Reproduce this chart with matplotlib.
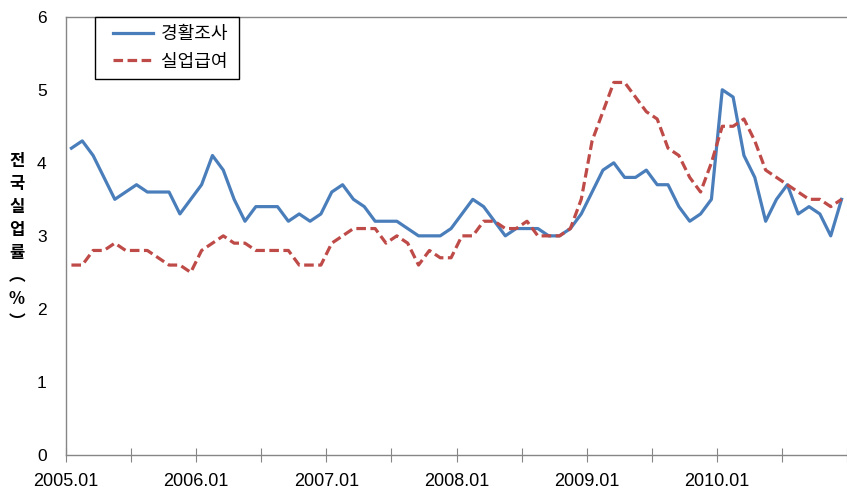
import matplotlib
matplotlib.use("Agg")
import matplotlib.pyplot as plt
from matplotlib.legend_handler import HandlerLine2D
from matplotlib.lines import Line2D
import numpy as np

plt.rcParams['font.family'] = ['Liberation Sans', 'Noto Sans CJK KR', 'DejaVu Sans']

months = [f"{y}.{m:02d}" for y in range(2005, 2011) for m in range(1, 13)]
year_labels = ["2005.01", "2006.01", "2007.01", "2008.01", "2009.01", "2010.01"]

survey = [4.2, 4.3, 4.1, 3.8, 3.5, 3.6, 3.7, 3.6, 3.6, 3.6, 3.3, 3.5,
          3.7, 4.1, 3.9, 3.5, 3.2, 3.4, 3.4, 3.4, 3.2, 3.3, 3.2, 3.3,
          3.6, 3.7, 3.5, 3.4, 3.2, 3.2, 3.2, 3.1, 3.0, 3.0, 3.0, 3.1,
          3.3, 3.5, 3.4, 3.2, 3.0, 3.1, 3.1, 3.1, 3.0, 3.0, 3.1, 3.3,
          3.6, 3.9, 4.0, 3.8, 3.8, 3.9, 3.7, 3.7, 3.4, 3.2, 3.3, 3.5,
          5.0, 4.9, 4.1, 3.8, 3.2, 3.5, 3.7, 3.3, 3.4, 3.3, 3.0, 3.5]

benefit = [2.6, 2.6, 2.8, 2.8, 2.9, 2.8, 2.8, 2.8, 2.7, 2.6, 2.6, 2.5,
           2.8, 2.9, 3.0, 2.9, 2.9, 2.8, 2.8, 2.8, 2.8, 2.6, 2.6, 2.6,
           2.9, 3.0, 3.1, 3.1, 3.1, 2.9, 3.0, 2.9, 2.6, 2.8, 2.7, 2.7,
           3.0, 3.0, 3.2, 3.2, 3.1, 3.1, 3.2, 3.0, 3.0, 3.0, 3.1, 3.5,
           4.3, 4.7, 5.1, 5.1, 4.9, 4.7, 4.6, 4.2, 4.1, 3.8, 3.6, 4.0,
           4.5, 4.5, 4.6, 4.3, 3.9, 3.8, 3.7, 3.6, 3.5, 3.5, 3.4, 3.5]

series_names = ["경활조사", "실업급여"]
y_ticks = [0, 1, 2, 3, 4, 5, 6]

fig = plt.figure(figsize=(8.47, 4.93), dpi=100)
ax = fig.add_axes([66 / 847, 1 - 455 / 493, 1 - 66 / 847, (455 - 16.7) / 493])

x = np.arange(len(months))
l1, = ax.plot(x, survey, color="#4A7EBB", lw=2.3, label=series_names[0],
              solid_joinstyle="round", clip_on=False)
l2, = ax.plot(x, benefit, color="#BE4B48", lw=2.3, linestyle=(0, (3, 1.4)),
              label=series_names[1], clip_on=False)

ax.set_xlim(-0.45, 71.05)
ax.set_ylim(0, 6)

tick_pos = np.arange(-0.5, 72, 6)
ax.set_xticks(tick_pos)
ax.set_xticklabels([year_labels[i // 2] if i % 2 == 0 and i // 2 < len(year_labels) else ""
                    for i in range(len(tick_pos))],
                   family=['Liberation Sans Narrow', 'Liberation Sans'])
ax.tick_params(axis='x', direction='inout', length=10, width=0.8, color="#868686",
               labelsize=13, pad=8)
ax.set_yticks(y_ticks)
ax.tick_params(axis='y', length=0, labelsize=12.5, pad=14)

for s in ['left', 'bottom', 'top']:
    ax.spines[s].set_color("#868686")
    ax.spines[s].set_linewidth(1.0)
ax.spines['right'].set_visible(False)

hmap = {l1: HandlerLine2D(xpad=0.55), l2: HandlerLine2D(xpad=0.55)}
leg = ax.legend(handles=[l1, l2], labels=[n + " " for n in series_names],
                handler_map=hmap,
                loc='upper left', bbox_to_anchor=(0.037, 1.0), borderaxespad=0,
                handlelength=2.75, handletextpad=0.45, labelspacing=0.55,
                borderpad=0.45, fancybox=False, framealpha=1,
                prop={'family': ['Noto Sans CJK KR'], 'size': 13})
leg.get_frame().set_edgecolor("black")
leg.get_frame().set_linewidth(1.0)

fig.text(0.02, 0.51, "전\n국\n실\n업\n률\n︵\n%\n︶", ha='center', va='center',
         fontsize=12, fontweight='bold', family=['Noto Sans CJK KR'], linespacing=1.36)

fig.savefig("out.png", dpi=100)
